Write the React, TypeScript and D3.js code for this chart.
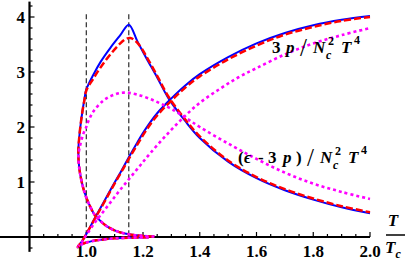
import React from "react";
import * as d3 from "d3";

// [T/Tc, value] pairs, ordered along each curve (the curves bend back at T_min)
const blue3p: [number, number][] = [
  [1.22, -0.006], [1.15, -0.014], [1.1, -0.025], [1.06, -0.045], [1.02, -0.075],
  [0.995, -0.11], [0.98, -0.145], [0.97, -0.18],
  [0.985, -0.08], [1.0, 0.05], [1.03, 0.34], [1.06, 0.62], [1.09, 0.9], [1.12, 1.17],
  [1.15, 1.45], [1.18, 1.72], [1.21, 1.97], [1.25, 2.25], [1.3, 2.52], [1.35, 2.76],
  [1.4, 2.96], [1.5, 3.27], [1.6, 3.52], [1.7, 3.71], [1.8, 3.85], [1.9, 3.95], [2.0, 4.02],
];
const red3p: [number, number][] = [
  [1.22, -0.006], [1.15, -0.014], [1.1, -0.025], [1.06, -0.045], [1.02, -0.075],
  [0.995, -0.11], [0.98, -0.145], [0.97, -0.18],
  [0.985, -0.08], [1.0, 0.05], [1.03, 0.33], [1.06, 0.6], [1.09, 0.88], [1.12, 1.15],
  [1.15, 1.42], [1.18, 1.68], [1.21, 1.93], [1.25, 2.21], [1.3, 2.48], [1.35, 2.72],
  [1.4, 2.92], [1.5, 3.23], [1.6, 3.48], [1.7, 3.68], [1.8, 3.82], [1.9, 3.93], [2.0, 4.0],
];
const magenta3p: [number, number][] = [
  [1.22, -0.006], [1.15, -0.014], [1.1, -0.025], [1.06, -0.045], [1.02, -0.075],
  [0.995, -0.11], [0.98, -0.145], [0.97, -0.18],
  [0.985, -0.09], [1.0, 0.03], [1.03, 0.26], [1.06, 0.46], [1.09, 0.66], [1.12, 0.86],
  [1.155, 1.08], [1.19, 1.3], [1.225, 1.52], [1.28, 1.84], [1.34, 2.16], [1.4, 2.44],
  [1.47, 2.69], [1.535, 2.9], [1.6, 3.07], [1.7, 3.32], [1.8, 3.52], [1.9, 3.67], [2.0, 3.8],
];

const blueEps: [number, number][] = [
  [1.24, 0.008], [1.2, 0.02], [1.15, 0.05], [1.11, 0.1], [1.077, 0.18],
  [1.05, 0.29], [1.03, 0.4], [1.015, 0.54], [1.0, 0.72], [0.99, 0.88], [0.982, 1.05],
  [0.975, 1.27], [0.972, 1.55],
  [0.976, 1.85], [0.981, 2.08], [0.987, 2.3], [0.994, 2.52], [1.0, 2.68], [1.025, 2.95],
  [1.05, 3.18], [1.085, 3.44], [1.12, 3.67], [1.15, 3.86], [1.18, 3.56], [1.21, 3.27],
  [1.25, 2.9], [1.29, 2.52], [1.35, 2.1], [1.4, 1.8], [1.5, 1.37], [1.6, 1.07],
  [1.7, 0.85], [1.8, 0.68], [1.9, 0.54], [2.0, 0.43],
];
const redEps: [number, number][] = [
  [1.24, 0.008], [1.2, 0.02], [1.15, 0.05], [1.11, 0.1], [1.077, 0.18],
  [1.05, 0.29], [1.03, 0.4], [1.015, 0.54], [1.0, 0.72], [0.99, 0.88], [0.982, 1.05],
  [0.975, 1.27], [0.972, 1.55],
  [0.976, 1.85], [0.981, 2.08], [0.987, 2.3], [0.994, 2.5], [1.0, 2.66], [1.025, 2.88],
  [1.05, 3.08], [1.085, 3.32], [1.12, 3.52], [1.14, 3.6], [1.155, 3.62], [1.17, 3.58],
  [1.19, 3.47], [1.21, 3.3], [1.25, 2.93], [1.29, 2.55], [1.35, 2.13], [1.4, 1.83],
  [1.5, 1.39], [1.6, 1.09], [1.7, 0.87], [1.8, 0.7], [1.9, 0.56], [2.0, 0.45],
];
const magentaEps: [number, number][] = [
  [1.24, 0.008], [1.2, 0.02], [1.15, 0.05], [1.11, 0.1], [1.077, 0.18],
  [1.05, 0.29], [1.03, 0.4], [1.015, 0.54], [1.0, 0.72], [0.99, 0.88], [0.982, 1.05],
  [0.975, 1.27], [0.973, 1.5],
  [0.98, 1.7], [0.99, 1.88], [1.0, 2.0], [1.007, 2.1], [1.025, 2.28], [1.06, 2.48],
  [1.09, 2.57], [1.12, 2.62], [1.15, 2.62], [1.18, 2.59], [1.22, 2.52], [1.26, 2.43],
  [1.3, 2.33], [1.35, 2.17], [1.4, 2.0], [1.5, 1.7], [1.6, 1.42], [1.7, 1.17],
  [1.8, 0.97], [1.9, 0.82], [2.0, 0.69],
];

const xLabels = [1.0, 1.2, 1.4, 1.6, 1.8, 2.0];
const yLabels = [1, 2, 3, 4];
const markers = [1.0, 1.15];

const W = 407;
const H = 267;
const serif = "'Liberation Serif', 'Times New Roman', serif";

// label pieces: text, x offset from label start, style
type Piece = { t: string; dx: number; italic?: boolean; size?: number; dy?: number; normal?: boolean };
const tail = (o: number): Piece[] => [
  { t: "/", dx: o, size: 25, dy: 3, normal: true },
  { t: "N", dx: o + 13, italic: true },
  { t: "c", dx: o + 26, italic: true, size: 12, dy: 6 },
  { t: "2", dx: o + 28, size: 12, dy: -8 },
  { t: "T", dx: o + 41, italic: true },
  { t: "4", dx: o + 54, size: 12, dy: -9 },
];
const label1: Piece[] = [
  { t: "3", dx: 0 },
  { t: "p", dx: 14, italic: true },
  ...tail(28),
];
const label2: Piece[] = [
  { t: "(", dx: 0 },
  { t: "ϵ", dx: 6, italic: true },
  { t: "-", dx: 20 },
  { t: "3", dx: 30 },
  { t: "p", dx: 45, italic: true },
  { t: ")", dx: 58 },
  ...tail(69),
];

const Label = ({ x0, y0, pieces }: { x0: number; y0: number; pieces: Piece[] }) => (
  <g fontWeight="bold" fontSize={17}>
    {pieces.map((p, i) => (
      <text
        key={i}
        x={x0 + p.dx}
        y={y0 + (p.dy || 0)}
        fontStyle={p.italic ? "italic" : "normal"}
        fontSize={p.size || 17}
        fontWeight={p.normal ? "normal" : "bold"}
      >
        {p.t}
      </text>
    ))}
  </g>
);

const App = () => {
  const x = d3.scaleLinear().domain([0.8, 2.0]).range([29.5, 370]);
  const y = d3.scaleLinear().domain([0, 4]).range([237, 17]);

  const line = d3
    .line<[number, number]>()
    .x((d) => x(d[0]))
    .y((d) => y(d[1]))
    .curve(d3.curveCatmullRom.alpha(0.5));

  const xMinor = d3.range(17, 41).map((i) => i * 0.05);
  const yMinor = d3.range(-1, 22).map((i) => i * 0.2);

  const series = [
    { data: blue3p, color: "#0000ff", width: 2, dash: null },
    { data: blueEps, color: "#0000ff", width: 2, dash: null },
    { data: red3p, color: "#ff0000", width: 2.5, dash: "7,3" },
    { data: redEps, color: "#ff0000", width: 2.5, dash: "7,3" },
    { data: magenta3p, color: "#ff00ff", width: 2.6, dash: "3,3" },
    { data: magentaEps, color: "#ff00ff", width: 2.6, dash: "3,3" },
  ];

  return (
    <svg
      width={W}
      height={H}
      style={{ position: "absolute", left: 0, top: 0, background: "#fff" }}
      fontFamily={serif}
    >
      {/* axes */}
      <line x1={x(0.696)} x2={x(2.0)} y1={y(0)} y2={y(0)} stroke="#000" strokeWidth={2.2} />
      <line x1={x(0.8)} x2={x(0.8)} y1={y(-0.27)} y2={y(4.28)} stroke="#000" strokeWidth={2.2} />

      {xMinor.map((t, i) => {
        const major = Math.abs(t * 5 - Math.round(t * 5)) < 1e-6;
        return (
          <line key={"xt" + i} x1={x(t)} x2={x(t)} y1={y(0)} y2={y(0) - (major ? 5 : 3)} stroke="#000" strokeWidth={1.2} />
        );
      })}
      {yMinor.map((v, i) => {
        const major = Math.abs(v - Math.round(v)) < 1e-6;
        return (
          <line key={"yt" + i} x1={x(0.8)} x2={x(0.8) + (major ? 5 : 3)} y1={y(v)} y2={y(v)} stroke="#000" strokeWidth={1.2} />
        );
      })}

      {xLabels.map((t) => (
        <text key={"xl" + t} x={x(t)} y={257} textAnchor="middle" fontSize={17} fontWeight="bold">
          {t.toFixed(1)}
        </text>
      ))}
      {yLabels.map((v) => (
        <text key={"yl" + v} x={25} y={y(v)} dy="0.35em" textAnchor="end" fontSize={17} fontWeight="bold">
          {v}
        </text>
      ))}

      {/* T / Tc axis label */}
      <text x={393} y={226} textAnchor="middle" fontSize={17} fontWeight="bold" fontStyle="italic">T</text>
      <line x1={386} x2={405} y1={235} y2={235} stroke="#000" strokeWidth={1.5} />
      <text x={385} y={253} fontSize={17} fontWeight="bold" fontStyle="italic">
        T<tspan fontSize={12} dy={5}>c</tspan>
      </text>

      {/* dashed markers */}
      {markers.map((t) => (
        <line key={"m" + t} x1={x(t)} x2={x(t)} y1={y(4.05)} y2={y(0)} stroke="#000" strokeWidth={1} strokeDasharray="5,3" />
      ))}

      {series.map((s, i) => (
        <path
          key={"s" + i}
          d={line(s.data) || ""}
          fill="none"
          stroke={s.color}
          strokeWidth={s.width}
          strokeDasharray={s.dash || undefined}
          strokeLinejoin="round"
        />
      ))}

      {/* curve labels */}
      <Label x0={272} y0={53} pieces={label1} />
      <Label x0={238} y0={163} pieces={label2} />
    </svg>
  );
};

export default App;
